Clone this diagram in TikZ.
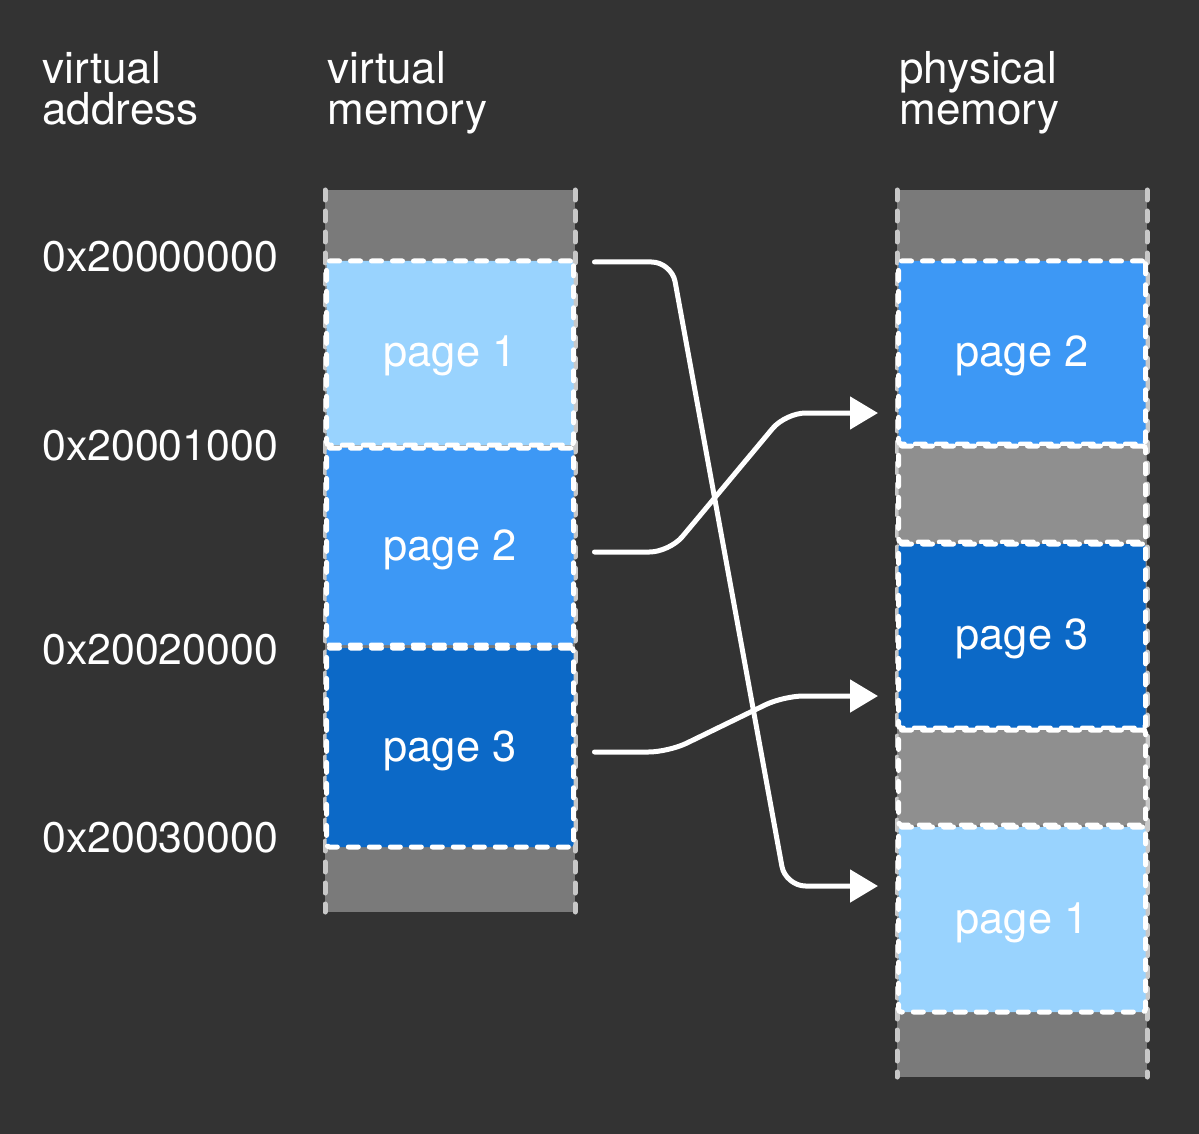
\documentclass[tikz,border=0pt]{standalone}
\usepackage{fontspec}
\setmainfont{TeX Gyre Heros}
\usepackage{tikz}
\usetikzlibrary{arrows.meta, positioning, calc}
\usepackage{xcolor}
\definecolor{memorybg}{RGB}{51, 51, 51}
\definecolor{memorygray}{RGB}{122, 122, 122}
\definecolor{memorygap}{RGB}{143, 143, 143}
\definecolor{memoryedge}{RGB}{200, 200, 200}
\definecolor{memorylight}{RGB}{153, 211, 254}
\definecolor{memorymid}{RGB}{61, 152, 245}
\definecolor{memorydark}{RGB}{12, 105, 199}
\tikzstyle{arrow} = [line width=2.5pt, white, line cap=round, rounded corners=10pt, -{Triangle[length=14pt,width=16pt]}]
\tikzstyle{pagebox} = [draw=white, line width=2.5pt, line cap=round, dash pattern=on 5pt off 5.5pt, rounded corners=1.5pt, minimum width=123.5pt, inner sep=0pt, outer sep=0pt, text=white, text height=18pt, text depth=4.5pt, font=\fontsize{21.7}{21.7}\selectfont]
\tikzstyle{column} = [fill=memorygray, minimum width=125pt, inner sep=0pt, outer sep=0pt]
\tikzstyle{coledge} = [memoryedge, line width=2.5pt, line cap=round, dash pattern=on 5pt off 5.5pt]
\tikzstyle{heading} = [white, inner sep=0pt, font=\fontsize{22}{20.5}\selectfont]
\tikzstyle{address} = [white, inner sep=0pt, font=\fontsize{21.4}{21.4}\selectfont]

\begin{document}
\begin{tikzpicture}[x=0.5pt, y=-0.5pt]
\fill[memorybg] (0,0) rectangle (1199,1134);
\useasboundingbox (0,0) rectangle (1199,1134);

% Headings
\node[heading, anchor=north west, align=left] (vaddr) at (42,51) {virtual\\address};
\node[heading, anchor=north west, align=left] (vmem) at (327,51) {virtual\\memory};
\node[heading, anchor=north west, align=left] (pmem) at (899,51) {physical\\memory};

% Addresses
\foreach \y/\txt [count=\i] in {257/0x20000000, 446/0x20001000, 650/0x20020000, 838/0x20030000}
    \node[address, anchor=west] (addr\i) at (42,\y) {\txt};

% Virtual memory column
\node[column, minimum height=361pt] (vcol) at (450,551) {};
\draw[coledge] (vcol.north west) -- (vcol.south west);
\draw[coledge] (vcol.north east) -- (vcol.south east);
\foreach \name/\y/\h/\col/\txt in {vp1/353/184/memorylight/page 1, vp2/546.5/197/memorymid/page 2, vp3/747.5/199/memorydark/page 3}
    \node[pagebox, fill=\col, minimum height=\h*0.5pt] (\name) at (450,\y) {\txt};

% Physical memory column
\node[column, minimum height=443.5pt] (pcol) at (1022,633.5) {};
\draw[coledge] (pcol.north west) -- (pcol.south west);
\draw[coledge] (pcol.north east) -- (pcol.south east);
\foreach \name/\y/\h/\col/\txt in {pp2/352.5/183/memorymid/page 2, gap1/494/96/memorygap/, pp3/636/184/memorydark/page 3, gap2/777.5/95/memorygap/, pp1/919.5/185/memorylight/page 1}
    \node[pagebox, fill=\col, minimum height=\h*0.5pt] (\name) at (1022,\y) {\txt};

% Page mapping
\draw[arrow] ($(vp1.north east)+(21,1)$) -- ++(77,0) -- ++(114,624) -- ($(pp1.west)+(-20.5,-33.5)$);
\draw[arrow] ($(vp2.east)+(21,5.5)$) -- ++(75,0) -- ++(116,-139) -- ($(pp2.west)+(-20.5,60.5)$);
\draw[arrow] ($(vp3.east)+(21,4.5)$) -- ++(74,0) -- ++(115,-56) -- ($(pp3.west)+(-20.5,60)$);
\end{tikzpicture}
\end{document}
